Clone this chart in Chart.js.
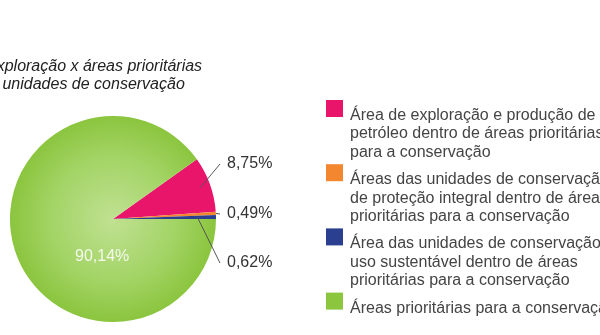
<!DOCTYPE html>
<html>
<head>
<meta charset="utf-8">
<script src="https://cdn.jsdelivr.net/npm/chart.js@4.4.0/dist/chart.umd.min.js"></script>
<style>
  html, body { margin: 0; padding: 0; width: 600px; height: 335px; overflow: hidden; background: #fff; }
  #wrap { position: absolute; left: -10px; top: 0; }
</style>
</head>
<body>
<div id="wrap"><canvas id="myChart" width="700" height="335"></canvas></div>
<script>
// data, in legend order
var legendLabels = [
  ["Área de exploração e produção de", "petróleo dentro de áreas prioritárias", "para a conservação"],
  ["Áreas das unidades de conservação", "de proteção integral dentro de áreas", "prioritárias para a conservação"],
  ["Área das unidades de conservação de", "uso sustentável dentro de áreas", "prioritárias para a conservação"],
  ["Áreas prioritárias para a conservação"]
];
var shares = [8.75, 0.49, 0.62, 90.14];
var valueLabels = ["8,75%", "0,49%", "0,62%", "90,14%"];
var colors = ["#e8156b", "#f3872f", "#2a3f8f", "#8cc63f"];
var titleLines = ["Exploração x áreas prioritárias", "x unidades de conservação"];
var titleIndent = [-4, 0];

// where each value label sits, relative to pie centre (style only)
var labelSpots = [
  { dx: 114, dy: -55, line: true, r: 0.9, color: "#333" },
  { dx: 114, dy: -5, line: true, r: 1.0, color: "#333" },
  { dx: 114, dy: 44, line: true, r: 0.82, color: "#333" },
  { dx: -38, dy: 38, line: false, color: "#f4f9ec" }
];

function greenFill(ctx) {
  var chart = ctx.chart;
  var a = chart.chartArea;
  if (ctx.dataIndex !== 3 || !a) return colors[ctx.dataIndex];
  var cx = (a.left + a.right) / 2, cy = (a.top + a.bottom) / 2;
  var r = Math.min(a.right - a.left, a.bottom - a.top) / 2;
  var g = chart.ctx.createRadialGradient(cx, cy, 0, cx, cy, r);
  g.addColorStop(0, "#c0e192");
  g.addColorStop(0.6, "#a3d466");
  g.addColorStop(1, "#8bc53e");
  return g;
}

var titlePlugin = {
  id: "sideTitle",
  afterDraw: function (chart) {
    var c = chart.ctx;
    c.save();
    c.fillStyle = "#222";
    c.font = "italic 16px 'Liberation Sans', Arial, sans-serif";
    c.textAlign = "left";
    c.textBaseline = "alphabetic";
    titleLines.forEach(function (t, i) {
      c.fillText(t, titleIndent[i], 71 + i * 18);
    });
    c.restore();
  }
};

var valuePlugin = {
  id: "valueLabels",
  afterDatasetsDraw: function (chart) {
    var c = chart.ctx;
    var arcs = chart.getDatasetMeta(0).data;
    c.save();
    c.font = "16px 'Liberation Sans', Arial, sans-serif";
    c.textBaseline = "middle";
    c.textAlign = "left";
    arcs.forEach(function (arc, i) {
      var s = labelSpots[i];
      var cx = arc.x, cy = arc.y, R = arc.outerRadius;
      var mid = (arc.startAngle + arc.endAngle) / 2;
      if (s.line) {
        c.strokeStyle = "#555";
        c.lineWidth = 1;
        c.beginPath();
        c.moveTo(cx + Math.cos(mid) * R * s.r, cy + Math.sin(mid) * R * s.r);
        c.lineTo(cx + s.dx - 7, cy + s.dy);
        c.stroke();
      }
      c.fillStyle = s.color;
      c.fillText(valueLabels[i], cx + s.dx, cy + s.dy);
    });
    c.restore();
  }
};

var legendPlugin = {
  id: "sideLegend",
  afterDraw: function (chart) {
    var c = chart.ctx;
    var x = 336, y = 100, lh = 18.4, gap = 9, box = 17;
    c.save();
    c.font = "16px 'Liberation Sans', Arial, sans-serif";
    c.textBaseline = "alphabetic";
    c.textAlign = "left";
    chart.data.labels.forEach(function (lines, i) {
      c.fillStyle = colors[i];
      c.fillRect(x, y, box, box);
      c.fillStyle = "#444";
      lines.forEach(function (t, j) {
        c.fillText(t, x + 24, y + 20 + j * lh);
      });
      y += lines.length * lh + gap;
    });
    c.restore();
  }
};

new Chart("myChart", {
  type: "pie",
  data: {
    labels: legendLabels,
    datasets: [{
      data: shares,
      backgroundColor: greenFill,
      borderWidth: 0,
      hoverOffset: 0
    }]
  },
  options: {
    responsive: false,
    animation: false,
    rotation: 54.5,
    layout: { padding: { left: 20, top: 116, right: 474, bottom: 13 } },
    plugins: {
      legend: { display: false },
      tooltip: { enabled: false },
      title: { display: false }
    }
  },
  plugins: [titlePlugin, valuePlugin, legendPlugin]
});
</script>
</body>
</html>
